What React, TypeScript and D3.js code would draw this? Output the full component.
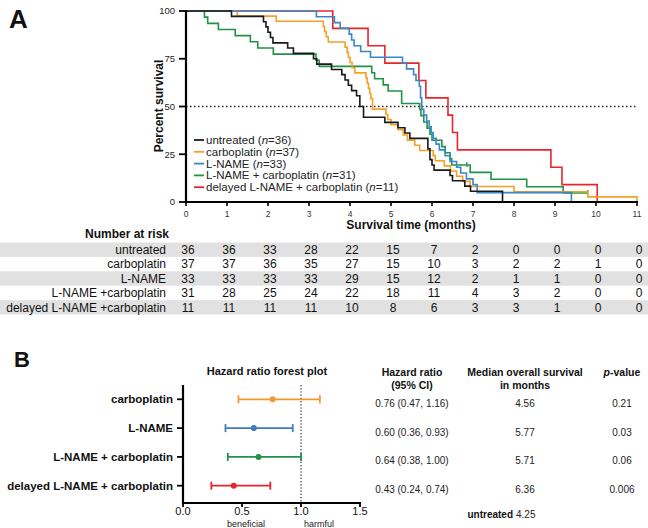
import React from 'react';
import * as d3 from 'd3';

// ---------- Panel A: Kaplan-Meier data ----------
const untreatedT = [0, 1.11, 1.89, 1.95, 2.0, 2.06, 2.12, 2.48, 2.62, 3.11, 3.19, 3.55, 3.8, 3.88, 3.96, 4.04, 4.16, 4.24, 4.33, 4.85, 5.17, 5.34, 5.46, 5.9, 5.95, 6.0, 6.05, 6.44, 6.5, 6.8, 6.94, 7.72];
const untreatedS = [100, 97.2, 94.4, 91.7, 88.9, 86.1, 83.3, 80.6, 77.8, 75.0, 72.2, 69.4, 66.7, 63.9, 61.1, 58.3, 55.6, 50.0, 44.4, 41.7, 38.9, 36.1, 33.3, 27.8, 22.2, 19.4, 16.7, 13.9, 11.1, 8.3, 5.6, 0];

const carboT = [0, 1.25, 2.2, 3.35, 3.38, 3.42, 3.47, 3.88, 3.93, 3.96, 4.0, 4.05, 4.12, 4.39, 4.42, 4.45, 4.48, 4.51, 4.55, 4.88, 4.92, 5.0, 5.17, 5.3, 5.4, 5.58, 5.7, 6.03, 6.08, 6.3, 6.45, 6.6, 6.75, 6.93, 8.0, 9.8, 11.0];
const carboS = [100, 97.3, 94.6, 91.9, 89.2, 86.5, 83.8, 81.1, 78.4, 75.7, 73.0, 70.3, 67.6, 64.9, 62.2, 59.5, 56.8, 54.1, 48.6, 45.9, 43.2, 40.5, 37.8, 35.1, 32.4, 29.7, 27.0, 24.3, 21.6, 18.9, 16.2, 13.5, 10.8, 8.1, 5.4, 2.7, 0];

const lnameT = [0, 3.18, 3.62, 3.76, 3.98, 4.04, 4.1, 4.26, 4.5, 5.28, 5.38, 5.55, 5.61, 5.69, 5.72, 5.75, 5.8, 5.87, 5.93, 5.98, 6.03, 6.1, 6.18, 6.32, 6.44, 6.6, 6.7, 6.84, 7.0, 7.1, 9.4];
const lnameS = [100, 97.0, 93.9, 90.9, 87.9, 84.8, 81.8, 78.8, 75.8, 72.7, 69.7, 66.7, 63.6, 60.6, 54.5, 48.5, 45.5, 42.4, 39.4, 36.4, 33.3, 30.3, 27.3, 24.2, 21.2, 18.2, 15.2, 12.1, 9.1, 4.9, 0];

const comboT = [0, 0.45, 0.53, 0.79, 1.2, 1.57, 1.75, 2.13, 3.17, 3.25, 4.53, 4.6, 4.81, 4.93, 5.26, 5.7, 5.73, 5.8, 5.88, 5.95, 6.0, 6.24, 6.32, 6.44, 6.48, 6.93, 7.44, 8.31, 9.2, 9.8];
const comboS = [100, 96.8, 93.5, 90.3, 87.1, 83.9, 80.6, 77.4, 74.2, 71.0, 67.7, 64.5, 61.3, 58.1, 51.6, 48.4, 45.2, 41.9, 38.7, 35.5, 32.3, 29.0, 25.8, 22.6, 19.4, 15.5, 11.9, 8.0, 4.7, 4.7];
const comboCensor = [6.85, 9.8];

const delayedT = [0, 3.58, 4.44, 4.85, 5.68, 5.85, 6.39, 6.5, 6.62, 8.9, 9.17, 10.03];
const delayedS = [100, 90.9, 81.8, 72.7, 63.6, 54.5, 45.5, 36.4, 27.3, 18.2, 9.1, 0];

const groupNames = ['untreated', 'carboplatin', 'L-NAME', 'L-NAME + carboplatin', 'delayed L-NAME + carboplatin'];
const groupN = [36, 37, 33, 31, 11];
const groupColors = ['#1a1a1a', '#f4a124', '#3b86c8', '#1f9448', '#e8262a'];

const monthTicks = [0, 1, 2, 3, 4, 5, 6, 7, 8, 9, 10, 11];
const survTicks = [0, 25, 50, 75, 100];

// ---------- Number at risk ----------
const riskLabels = ['untreated', 'carboplatin', 'L-NAME', 'L-NAME +carboplatin', 'delayed L-NAME +carboplatin'];
const riskUntreated = [36, 36, 33, 28, 22, 15, 7, 2, 0, 0, 0, 0];
const riskCarbo = [37, 37, 36, 35, 27, 15, 10, 3, 2, 2, 1, 0];
const riskLname = [33, 33, 33, 33, 29, 15, 12, 2, 1, 1, 0, 0];
const riskCombo = [31, 28, 25, 24, 22, 18, 11, 4, 3, 2, 0, 0];
const riskDelayed = [11, 11, 11, 11, 10, 8, 6, 3, 3, 1, 0, 0];

// ---------- Panel B: forest plot ----------
const forestCats = ['carboplatin', 'L-NAME', 'L-NAME + carboplatin', 'delayed L-NAME + carboplatin'];
const forestColors = ['#f39a2e', '#3d7bbd', '#22924a', '#e3262b'];
const hrValues = [0.76, 0.60, 0.64, 0.43];
const hrLow = [0.47, 0.36, 0.38, 0.24];
const hrHigh = [1.16, 0.93, 1.00, 0.74];
const medianOS = ['4.56', '5.77', '5.71', '6.36'];
const pValues = ['0.21', '0.03', '0.06', '0.006'];
const forestTicks = [0, 0.5, 1.0, 1.5];
const untreatedMedian = '4.25';

const FONT = "'Liberation Sans', Arial, Helvetica, sans-serif";

export default function App() {
  const xA = d3.scaleLinear().domain([0, 11]).range([186, 637]);
  const yA = d3.scaleLinear().domain([0, 100]).range([202, 11]);
  const line = d3
    .line<[number, number]>()
    .x((d) => xA(d[0]))
    .y((d) => yA(d[1]))
    .curve(d3.curveStepAfter);

  const series = [
    { T: untreatedT, S: untreatedS, censor: [] as number[] },
    { T: carboT, S: carboS, censor: [] as number[] },
    { T: lnameT, S: lnameS, censor: [] as number[] },
    { T: comboT, S: comboS, censor: comboCensor },
    { T: delayedT, S: delayedS, censor: [] as number[] },
  ].map((s, i) => ({ ...s, name: groupNames[i], n: groupN[i], color: groupColors[i] }));
  const drawOrder = [4, 3, 1, 2, 0];

  const levelAt = (T: number[], S: number[], t: number) => {
    const idx = d3.bisectRight(T, t) - 1;
    return S[Math.max(0, idx)];
  };

  const risks = [riskUntreated, riskCarbo, riskLname, riskCombo, riskDelayed];
  const rowTop = (i: number) => 242.5 + i * 14.4;
  const rowH = 14.4;

  const xF = d3.scaleLinear().domain([0, 1.5]).range([183, 360]);
  const yF = d3.scalePoint<string>().domain(forestCats).range([399.3, 485.7]);

  return (
    <svg
      width={648}
      height={528}
      viewBox="0 0 648 528"
      style={{ position: 'absolute', left: 0, top: 0, background: '#fff' }}
      fontFamily={FONT}
    >
      <rect x={0} y={0} width={648} height={528} fill="#fff" />
      {/* Panel label A */}
      <text x={9} y={28} fontSize={26} fontWeight="bold" fill="#111">A</text>

      {/* 50% dotted line */}
      <line x1={xA(0)} x2={xA(11)} y1={yA(50)} y2={yA(50)} stroke="#222" strokeWidth={1.5} strokeDasharray="1.5,2.5" />

      {/* KM curves */}
      {drawOrder.map((i) => {
        const s = series[i];
        const pts: [number, number][] = s.T.map((t, k) => [t, s.S[k]]);
        return (
          <g key={s.name}>
            <path d={line(pts) || ''} fill="none" stroke={s.color} strokeWidth={1.6} />
            {s.censor.map((c) => (
              <line key={c} x1={xA(c)} x2={xA(c)} y1={yA(levelAt(s.T, s.S, c)) - 3} y2={yA(levelAt(s.T, s.S, c)) + 2} stroke={s.color} strokeWidth={1.3} />
            ))}
          </g>
        );
      })}

      {/* Axes A */}
      <line x1={xA(0)} x2={xA(0)} y1={yA(100) - 0.5} y2={yA(0) + 1} stroke="#000" strokeWidth={2.2} />
      <line x1={xA(0) - 1} x2={xA(11) + 1} y1={yA(0)} y2={yA(0)} stroke="#000" strokeWidth={2.2} />
      {survTicks.map((v) => (
        <g key={v}>
          <line x1={xA(0) - 7} x2={xA(0)} y1={yA(v)} y2={yA(v)} stroke="#000" strokeWidth={1.8} />
          <text x={xA(0) - 11} y={yA(v)} dy="0.35em" textAnchor="end" fontSize={9.5} fill="#222">{v}</text>
        </g>
      ))}
      {monthTicks.map((m) => (
        <g key={m}>
          <line x1={xA(m)} x2={xA(m)} y1={yA(0)} y2={yA(0) + 4} stroke="#000" strokeWidth={1.6} />
          <text x={xA(m)} y={217} textAnchor="middle" fontSize={8.5} fill="#333">{m}</text>
        </g>
      ))}
      <text x={411} y={229} textAnchor="middle" fontSize={12} fontWeight="bold" fill="#111">Survival time (months)</text>
      <text transform={`translate(163,106) rotate(-90)`} textAnchor="middle" fontSize={12} fontWeight="bold" fill="#111">Percent survival</text>

      {/* Legend */}
      {series.map((s, i) => {
        const ly = 140 + i * 11.8;
        return (
          <g key={s.name}>
            <line x1={194} x2={204} y1={ly} y2={ly} stroke={s.color} strokeWidth={1.8} />
            <text x={206} y={ly} dy="0.35em" fontSize={11.5} fill="#222">
              {s.name} (<tspan fontStyle="italic">n</tspan>={s.n})
            </text>
          </g>
        );
      })}

      {/* Number at risk table */}
      <text x={169} y={238} textAnchor="end" fontSize={12} fontWeight="bold" fill="#111">Number at risk</text>
      {riskLabels.map((lab, i) => (
        <g key={lab}>
          {i % 2 === 0 && <rect x={0} y={rowTop(i)} width={648} height={rowH} fill="#e1e1e1" />}
          <text x={166} y={rowTop(i) + rowH / 2} dy="0.36em" textAnchor="end" fontSize={12} fill="#111">{lab}</text>
          {risks[i].map((v, k) => (
            <text key={k} x={xA(monthTicks[k]) + 2} y={rowTop(i) + rowH / 2} dy="0.36em" textAnchor="middle" fontSize={12} fill="#111">{v}</text>
          ))}
        </g>
      ))}

      {/* Panel label B */}
      <text x={14} y={367} fontSize={22} fontWeight="bold" fill="#111">B</text>
      <text x={267} y={375} textAnchor="middle" fontSize={11} fontWeight="bold" fill="#111">Hazard ratio forest plot</text>

      {/* Forest plot */}
      <line x1={xF(1)} x2={xF(1)} y1={385} y2={503} stroke="#222" strokeWidth={1.2} strokeDasharray="1.2,2" />
      {forestCats.map((c, i) => {
        const yy = yF(c) as number;
        const col = forestColors[i];
        return (
          <g key={c}>
            <line x1={xF(hrLow[i])} x2={xF(hrHigh[i])} y1={yy} y2={yy} stroke={col} strokeWidth={1.8} />
            <line x1={xF(hrLow[i])} x2={xF(hrLow[i])} y1={yy - 4} y2={yy + 4} stroke={col} strokeWidth={1.8} />
            <line x1={xF(hrHigh[i])} x2={xF(hrHigh[i])} y1={yy - 4} y2={yy + 4} stroke={col} strokeWidth={1.8} />
            <circle cx={xF(hrValues[i])} cy={yy} r={3} fill={col} />
            <line x1={xF(0) - 6} x2={xF(0)} y1={yy} y2={yy} stroke="#000" strokeWidth={1.8} />
            <text x={173} y={yy} dy="0.35em" textAnchor="end" fontSize={11.5} fontWeight="bold" fill="#111">{c}</text>
            <text x={412} y={yy + 7.5} textAnchor="middle" fontSize={10} fill="#222">
              {`${hrValues[i].toFixed(2)} (${hrLow[i].toFixed(2)}, ${hrHigh[i].toFixed(2)})`}
            </text>
            <text x={525} y={yy + 7.5} textAnchor="middle" fontSize={10} fill="#222">{medianOS[i]}</text>
            <text x={622} y={yy + 7.5} textAnchor="middle" fontSize={10} fill="#222">{pValues[i]}</text>
          </g>
        );
      })}
      <line x1={xF(0)} x2={xF(0)} y1={385} y2={504} stroke="#000" strokeWidth={2.2} />
      <line x1={xF(0) - 1} x2={xF(1.5) + 1} y1={503} y2={503} stroke="#000" strokeWidth={2.2} />
      {forestTicks.map((t) => (
        <g key={t}>
          <line x1={xF(t)} x2={xF(t)} y1={503} y2={507} stroke="#000" strokeWidth={1.8} />
          <text x={xF(t)} y={515} textAnchor="middle" fontSize={11} fill="#111">{t.toFixed(1)}</text>
        </g>
      ))}
      <text x={246} y={526.5} textAnchor="middle" fontSize={9} fill="#222">beneficial</text>
      <text x={319} y={526.5} textAnchor="middle" fontSize={9} fill="#222">harmful</text>

      {/* Right-hand table */}
      <text x={412} y={376} textAnchor="middle" fontSize={10.5} fontWeight="bold" fill="#111">Hazard ratio</text>
      <text x={412} y={389} textAnchor="middle" fontSize={10.5} fontWeight="bold" fill="#111">(95% CI)</text>
      <text x={525} y={376} textAnchor="middle" fontSize={10.5} fontWeight="bold" fill="#111">Median overall survival</text>
      <text x={525} y={389} textAnchor="middle" fontSize={10.5} fontWeight="bold" fill="#111">in months</text>
      <text x={622} y={376} textAnchor="middle" fontSize={10.5} fontWeight="bold" fill="#111">
        <tspan fontStyle="italic">p</tspan>-value
      </text>
      <text x={513} y={518} textAnchor="end" fontSize={10} fontWeight="bold" fill="#111">untreated</text>
      <text x={516} y={518} fontSize={10} fill="#222">{untreatedMedian}</text>
    </svg>
  );
}
